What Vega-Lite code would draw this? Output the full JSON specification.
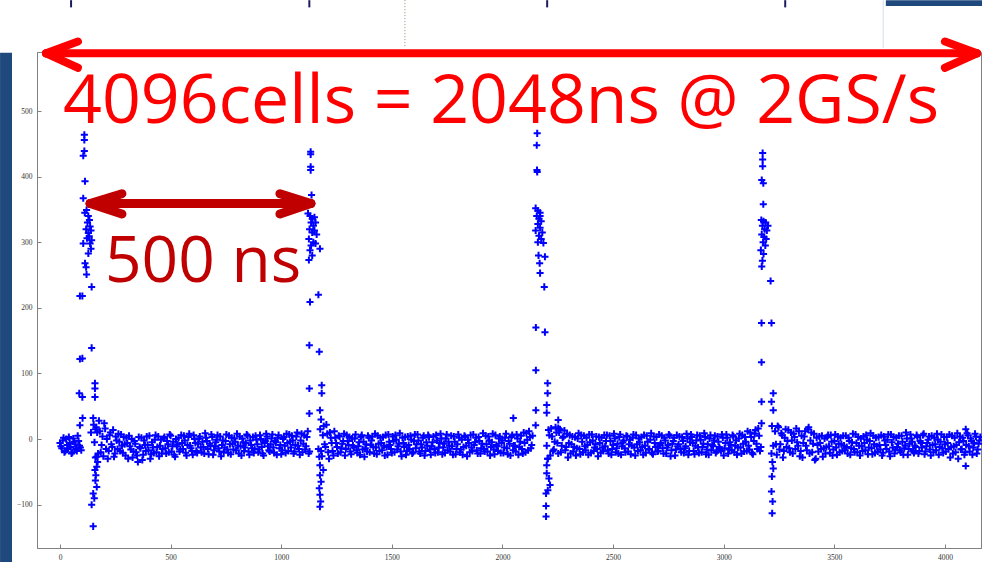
{
  "$schema": "https://vega.github.io/schema/vega-lite/v6.json",
  "width": 944,
  "height": 496,
  "autosize": {"type": "none"},
  "padding": {"left": 37, "top": 52, "right": 1, "bottom": 14},
  "background": "white",
  "config": {
    "view": {"stroke": "#808080", "strokeWidth": 1},
    "axis": {"grid": false, "title": null, "labelFont": "Liberation Serif", "labelFontSize": 7.5, "labelColor": "#333333", "domainColor": "#808080", "tickColor": "#808080", "tickSize": -4, "labelPadding": 9, "domainWidth": 1, "format": "d"}
  },
  "encoding": {
    "x": {"field": "c", "type": "quantitative", "scale": {"domain": [-104, 4163], "nice": false, "zero": false}, "axis": {"values": [0, 500, 1000, 1500, 2000, 2500, 3000, 3500, 4000]}},
    "y": {"field": "v", "type": "quantitative", "scale": {"domain": [-166, 590], "nice": false, "zero": false}, "axis": {"values": [-100, 0, 100, 200, 300, 400, 500]}}
  },
  "layer": [
    {
      "data": {"values": [{"c": -271, "c2": -217, "v": 589, "v2": -188}, {"c": 3733, "c2": 4170, "v": 669, "v2": 660}]},
      "mark": {"type": "rect", "color": "#1f497d", "opacity": 1},
      "encoding": {"x2": {"field": "c2"}, "y2": {"field": "v2"}}
    },
    {
      "data": {"values": [{"c": 50, "v": 669, "v2": 658}, {"c": 1127, "v": 669, "v2": 658}, {"c": 2202, "v": 669, "v2": 658}, {"c": 3278, "v": 669, "v2": 658}]},
      "mark": {"type": "rule", "color": "#1c1c5c", "strokeWidth": 2},
      "encoding": {"y2": {"field": "v2"}}
    },
    {
      "data": {"values": [{"c": 1559, "v": 669, "v2": 596}]},
      "mark": {"type": "rule", "color": "#8a8a70", "strokeWidth": 1, "strokeDash": [1, 2]},
      "encoding": {"y2": {"field": "v2"}}
    },
    {
      "data": {"values": [{"c": 3721, "v": 669, "v2": 596}]},
      "mark": {"type": "rule", "color": "#cfe0f0", "strokeWidth": 1},
      "encoding": {"y2": {"field": "v2"}}
    },
    {
      "data": {"values": [
{"c":0,"v":-6},{"c":8,"v":-14},{"c":16,"v":2},{"c":24,"v":-18},{"c":32,"v":-9},{"c":40,"v":3},{"c":48,"v":-12},{"c":56,"v":-20},{"c":64,"v":-4},{"c":72,"v":-15},{"c":80,"v":5},{"c":88,"v":-10},{"c":96,"v":-17},
{"c":4,"v":-11},{"c":12,"v":-2},{"c":20,"v":-20},{"c":28,"v":0},{"c":36,"v":-15},{"c":44,"v":-6},{"c":52,"v":-22},{"c":60,"v":1},{"c":68,"v":-8},{"c":76,"v":-18},{"c":84,"v":-3},{"c":92,"v":-13},
{"c":110,"v":464},{"c":110,"v":456},{"c":110,"v":439},{"c":105,"v":432},{"c":113,"v":393},{"c":105,"v":367},{"c":120,"v":349},{"c":112,"v":345},{"c":128,"v":340},{"c":133,"v":334},{"c":124,"v":330},{"c":136,"v":324},{"c":118,"v":320},{"c":140,"v":318},{"c":128,"v":314},{"c":132,"v":309},{"c":105,"v":298},{"c":143,"v":303},{"c":136,"v":298},{"c":122,"v":306},{"c":128,"v":283},{"c":140,"v":290},{"c":113,"v":268},{"c":120,"v":251},{"c":118,"v":262},{"c":143,"v":232},{"c":90,"v":218},{"c":101,"v":218},{"c":143,"v":139},{"c":90,"v":122},{"c":101,"v":123},{"c":87,"v":70},{"c":101,"v":64},{"c":158,"v":85},{"c":158,"v":77},{"c":158,"v":64},{"c":102,"v":32},{"c":90,"v":21},{"c":150,"v":32},{"c":160,"v":15},{"c":140,"v":10},{"c":166,"v":-27},{"c":166,"v":-42},{"c":158,"v":-47},{"c":162,"v":-55},{"c":160,"v":-63},{"c":166,"v":-73},{"c":150,"v":-83},{"c":155,"v":-90},{"c":143,"v":-100},{"c":150,"v":-133},{"c":170,"v":-35},
{"c":152,"v":22},{"c":160,"v":-28},{"c":168,"v":10},{"c":176,"v":28},{"c":184,"v":-20},{"c":192,"v":4},{"c":200,"v":24},{"c":208,"v":-15},{"c":216,"v":-30},{"c":224,"v":6},
{"c":232,"v":-8},{"c":240,"v":14},{"c":248,"v":-22},{"c":256,"v":-2},{"c":264,"v":8},{"c":272,"v":-18},{"c":280,"v":-10},{"c":288,"v":3},{"c":296,"v":-25},{"c":304,"v":-6},
{"c":312,"v":5},{"c":320,"v":-16},{"c":328,"v":-28},{"c":336,"v":-3},{"c":344,"v":-20},{"c":352,"v":-35},{"c":360,"v":-12},{"c":368,"v":2},{"c":376,"v":-24},{"c":384,"v":-9},
{"c":392,"v":4},{"c":400,"v":-17},{"c":408,"v":-30},{"c":416,"v":-5},{"c":424,"v":-21},{"c":432,"v":6},{"c":440,"v":-12},{"c":448,"v":-26},{"c":456,"v":-1},{"c":464,"v":-15},
{"c":472,"v":3},{"c":480,"v":-22},{"c":488,"v":-8},{"c":496,"v":7},{"c":504,"v":-19},{"c":512,"v":-4},{"c":520,"v":-27},{"c":528,"v":-11},{"c":536,"v":2},{"c":544,"v":-16},
{"c":552,"v":-6},{"c":560,"v":5},{"c":568,"v":-21},{"c":576,"v":-9},{"c":584,"v":8},{"c":592,"v":-14},{"c":600,"v":-24},{"c":608,"v":0},{"c":616,"v":-18},{"c":624,"v":-7},
{"c":632,"v":4},{"c":640,"v":-20},{"c":648,"v":-12},{"c":656,"v":9},{"c":664,"v":-3},{"c":672,"v":-23},{"c":680,"v":-10},{"c":688,"v":3},{"c":696,"v":-17},{"c":704,"v":-5},
{"c":712,"v":6},{"c":720,"v":-19},{"c":728,"v":-26},{"c":736,"v":-2},{"c":744,"v":-13},{"c":752,"v":7},{"c":760,"v":-21},{"c":768,"v":-8},{"c":776,"v":2},{"c":784,"v":-16},
{"c":792,"v":-4},{"c":800,"v":8},{"c":808,"v":-22},{"c":816,"v":-11},{"c":824,"v":1},{"c":832,"v":-18},{"c":840,"v":-6},{"c":848,"v":5},{"c":856,"v":-24},{"c":864,"v":-9},
{"c":872,"v":3},{"c":880,"v":-15},{"c":888,"v":-1},{"c":896,"v":-20},{"c":904,"v":6},{"c":912,"v":-12},{"c":920,"v":-25},{"c":928,"v":-3},{"c":936,"v":4},{"c":944,"v":-17},
{"c":952,"v":-8},{"c":960,"v":7},{"c":968,"v":-21},{"c":976,"v":-5},{"c":984,"v":2},{"c":992,"v":-14},{"c":1000,"v":-23},{"c":1008,"v":0},{"c":1016,"v":-10},{"c":1024,"v":8},
{"c":1032,"v":-18},{"c":1040,"v":-4},{"c":1048,"v":5},{"c":1056,"v":-22},{"c":1064,"v":-9},{"c":1072,"v":10},{"c":1080,"v":-15},{"c":1088,"v":-2},{"c":1096,"v":-20},{"c":1104,"v":6},
{"c":1112,"v":-11},{"c":1120,"v":12},{"c":1128,"v":-19},
{"c":156,"v":-5},{"c":164,"v":18},{"c":172,"v":-22},{"c":180,"v":12},{"c":188,"v":-9},{"c":196,"v":-26},{"c":204,"v":16},{"c":212,"v":0},{"c":220,"v":-18},{"c":228,"v":10},
{"c":236,"v":-12},{"c":244,"v":-27},{"c":252,"v":4},{"c":260,"v":-15},{"c":268,"v":-4},{"c":276,"v":7},{"c":284,"v":-21},{"c":292,"v":-8},{"c":300,"v":2},{"c":308,"v":-30},
{"c":316,"v":-11},{"c":324,"v":0},{"c":332,"v":-19},{"c":340,"v":-7},{"c":348,"v":-25},{"c":356,"v":3},{"c":364,"v":-14},{"c":372,"v":-32},{"c":380,"v":-2},{"c":388,"v":-18},
{"c":396,"v":-9},{"c":404,"v":5},{"c":412,"v":-23},{"c":420,"v":-13},{"c":428,"v":-1},{"c":436,"v":-20},{"c":444,"v":4},{"c":452,"v":-10},{"c":460,"v":-22},{"c":468,"v":1},
{"c":476,"v":-14},{"c":484,"v":-3},{"c":492,"v":-20},{"c":500,"v":5},{"c":508,"v":-11},{"c":516,"v":-24},{"c":524,"v":0},{"c":532,"v":-8},{"c":540,"v":-19},{"c":548,"v":6},
{"c":556,"v":-15},{"c":564,"v":-2},{"c":572,"v":-25},{"c":580,"v":3},{"c":588,"v":-10},{"c":596,"v":-18},{"c":604,"v":6},{"c":612,"v":-6},{"c":620,"v":-21},{"c":628,"v":1},
{"c":636,"v":-13},{"c":644,"v":-4},{"c":652,"v":-22},{"c":660,"v":2},{"c":668,"v":-15},{"c":676,"v":-7},{"c":684,"v":7},{"c":692,"v":-24},{"c":700,"v":-11},{"c":708,"v":-1},
{"c":716,"v":-14},{"c":724,"v":4},{"c":732,"v":-9},{"c":740,"v":-20},{"c":748,"v":-3},{"c":756,"v":-16},{"c":764,"v":5},{"c":772,"v":-23},{"c":780,"v":-7},{"c":788,"v":1},
{"c":796,"v":-17},{"c":804,"v":-10},{"c":812,"v":4},{"c":820,"v":-25},{"c":828,"v":-5},{"c":836,"v":-13},{"c":844,"v":7},{"c":852,"v":-19},{"c":860,"v":-2},{"c":868,"v":-14},
{"c":876,"v":-21},{"c":884,"v":5},{"c":892,"v":-8},{"c":900,"v":-16},{"c":908,"v":0},{"c":916,"v":-22},{"c":924,"v":-6},{"c":932,"v":8},{"c":940,"v":-11},{"c":948,"v":-19},
{"c":956,"v":1},{"c":964,"v":-13},{"c":972,"v":-3},{"c":980,"v":-24},{"c":988,"v":6},{"c":996,"v":-9},{"c":1004,"v":-17},{"c":1012,"v":3},{"c":1020,"v":-21},{"c":1028,"v":-6},
{"c":1036,"v":7},{"c":1044,"v":-13},{"c":1052,"v":-2},{"c":1060,"v":-19},{"c":1068,"v":4},{"c":1076,"v":-10},{"c":1084,"v":-24},{"c":1092,"v":8},{"c":1100,"v":-7},{"c":1108,"v":-16},
{"c":1116,"v":3},{"c":1124,"v":-22},
{"c":1133,"v":438},{"c":1133,"v":434},{"c":1133,"v":415},{"c":1133,"v":410},{"c":1137,"v":372},{"c":1121,"v":344},{"c":1130,"v":340},{"c":1140,"v":336},{"c":1150,"v":338},{"c":1135,"v":330},{"c":1145,"v":325},{"c":1155,"v":330},{"c":1128,"v":320},{"c":1140,"v":315},{"c":1150,"v":318},{"c":1160,"v":312},{"c":1125,"v":305},{"c":1145,"v":300},{"c":1135,"v":295},{"c":1155,"v":298},{"c":1130,"v":288},{"c":1175,"v":290},{"c":1140,"v":280},{"c":1125,"v":273},{"c":1130,"v":209},{"c":1168,"v":220},{"c":1127,"v":143},{"c":1172,"v":133},{"c":1127,"v":77},{"c":1183,"v":82},{"c":1183,"v":70},{"c":1127,"v":39},{"c":1175,"v":44},{"c":1180,"v":30},{"c":1172,"v":-27},{"c":1175,"v":-40},{"c":1190,"v":-47},{"c":1175,"v":-55},{"c":1180,"v":-65},{"c":1172,"v":-75},{"c":1175,"v":-85},{"c":1178,"v":-95},{"c":1175,"v":-103},{"c":1168,"v":-15},
{"c":1176,"v":15},{"c":1184,"v":-26},{"c":1192,"v":20},{"c":1200,"v":-12},{"c":1208,"v":8},{"c":1216,"v":-30},{"c":1224,"v":2},{"c":1232,"v":-18},{"c":1240,"v":12},{"c":1248,"v":-6},
{"c":1256,"v":-22},{"c":1264,"v":4},{"c":1272,"v":-14},{"c":1280,"v":-3},{"c":1288,"v":-25},{"c":1296,"v":6},{"c":1304,"v":-9},{"c":1312,"v":-19},{"c":1320,"v":1},{"c":1328,"v":-13},
{"c":1336,"v":7},{"c":1344,"v":-21},{"c":1352,"v":-5},{"c":1360,"v":3},{"c":1368,"v":-16},{"c":1376,"v":-27},{"c":1384,"v":-8},{"c":1392,"v":5},{"c":1400,"v":-20},{"c":1408,"v":-2},
{"c":1416,"v":-12},{"c":1424,"v":8},{"c":1432,"v":-23},{"c":1440,"v":-7},{"c":1448,"v":2},{"c":1456,"v":-17},{"c":1464,"v":-10},{"c":1472,"v":6},{"c":1480,"v":-24},{"c":1488,"v":-4},
{"c":1496,"v":-15},{"c":1504,"v":4},{"c":1512,"v":-20},{"c":1520,"v":-1},{"c":1528,"v":-11},{"c":1536,"v":9},{"c":1544,"v":-26},{"c":1552,"v":-6},{"c":1560,"v":3},{"c":1568,"v":-18},
{"c":1576,"v":-9},{"c":1584,"v":5},{"c":1592,"v":-22},{"c":1600,"v":-3},{"c":1608,"v":-14},{"c":1616,"v":7},{"c":1624,"v":-19},{"c":1632,"v":-8},{"c":1640,"v":2},{"c":1648,"v":-25},
{"c":1656,"v":-5},{"c":1664,"v":6},{"c":1672,"v":-16},{"c":1680,"v":-11},{"c":1688,"v":4},{"c":1696,"v":-21},{"c":1704,"v":-2},{"c":1712,"v":-13},{"c":1720,"v":8},{"c":1728,"v":-23},
{"c":1736,"v":-7},{"c":1744,"v":1},{"c":1752,"v":-17},{"c":1760,"v":-10},{"c":1768,"v":5},{"c":1776,"v":-24},{"c":1784,"v":-4},{"c":1792,"v":-15},{"c":1800,"v":7},{"c":1808,"v":-20},
{"c":1816,"v":-1},{"c":1824,"v":-12},{"c":1832,"v":3},{"c":1840,"v":-26},{"c":1848,"v":-6},{"c":1856,"v":6},{"c":1864,"v":-18},{"c":1872,"v":-9},{"c":1880,"v":2},{"c":1888,"v":-22},
{"c":1896,"v":-3},{"c":1904,"v":-14},{"c":1912,"v":9},{"c":1920,"v":-19},{"c":1928,"v":-8},{"c":1936,"v":4},{"c":1944,"v":-25},{"c":1952,"v":-5},{"c":1960,"v":-16},{"c":1968,"v":6},
{"c":1976,"v":-11},{"c":1984,"v":1},{"c":1992,"v":-21},{"c":2000,"v":-2},{"c":2008,"v":-13},{"c":2016,"v":8},{"c":2024,"v":-23},{"c":2032,"v":-7},{"c":2040,"v":3},{"c":2048,"v":-17},
{"c":2056,"v":-10},{"c":2064,"v":7},{"c":2072,"v":-24},{"c":2080,"v":-4},{"c":2088,"v":-15},{"c":2096,"v":10},{"c":2104,"v":-20},{"c":2112,"v":-1},{"c":2120,"v":12},{"c":2128,"v":-14},
{"c":2136,"v":5},
{"c":1180,"v":-18},{"c":1188,"v":6},{"c":1196,"v":-8},{"c":1204,"v":22},{"c":1212,"v":-20},{"c":1220,"v":10},{"c":1228,"v":-6},{"c":1236,"v":-25},{"c":1244,"v":2},{"c":1252,"v":-12},
{"c":1260,"v":5},{"c":1268,"v":-20},{"c":1276,"v":-7},{"c":1284,"v":8},{"c":1292,"v":-15},{"c":1300,"v":-3},{"c":1308,"v":3},{"c":1316,"v":-23},{"c":1324,"v":-10},{"c":1332,"v":1},
{"c":1340,"v":-17},{"c":1348,"v":-11},{"c":1356,"v":-24},{"c":1364,"v":6},{"c":1372,"v":-4},{"c":1380,"v":-14},{"c":1388,"v":-19},{"c":1396,"v":2},{"c":1404,"v":-9},{"c":1412,"v":4},
{"c":1420,"v":-22},{"c":1428,"v":-13},{"c":1436,"v":5},{"c":1444,"v":-18},{"c":1452,"v":-6},{"c":1460,"v":3},{"c":1468,"v":-25},{"c":1476,"v":-12},{"c":1484,"v":7},{"c":1492,"v":-9},
{"c":1500,"v":-21},{"c":1508,"v":-3},{"c":1516,"v":6},{"c":1524,"v":-16},{"c":1532,"v":-7},{"c":1540,"v":-19},{"c":1548,"v":2},{"c":1556,"v":-12},{"c":1564,"v":-24},{"c":1572,"v":4},
{"c":1580,"v":-15},{"c":1588,"v":-1},{"c":1596,"v":-20},{"c":1604,"v":7},{"c":1612,"v":-8},{"c":1620,"v":-2},{"c":1628,"v":-22},{"c":1636,"v":-13},{"c":1644,"v":5},{"c":1652,"v":-18},
{"c":1660,"v":-10},{"c":1668,"v":3},{"c":1676,"v":-24},{"c":1684,"v":-5},{"c":1692,"v":-15},{"c":1700,"v":6},{"c":1708,"v":-20},{"c":1716,"v":-6},{"c":1724,"v":1},{"c":1732,"v":-13},
{"c":1740,"v":-21},{"c":1748,"v":7},{"c":1756,"v":-4},{"c":1764,"v":-19},{"c":1772,"v":-11},{"c":1780,"v":4},{"c":1788,"v":-23},{"c":1796,"v":-8},{"c":1804,"v":2},{"c":1812,"v":-16},
{"c":1820,"v":-24},{"c":1828,"v":5},{"c":1836,"v":-10},{"c":1844,"v":-1},{"c":1852,"v":-20},{"c":1860,"v":-13},{"c":1868,"v":7},{"c":1876,"v":-5},{"c":1884,"v":-17},{"c":1892,"v":3},
{"c":1900,"v":-22},{"c":1908,"v":-7},{"c":1916,"v":-15},{"c":1924,"v":5},{"c":1932,"v":-19},{"c":1940,"v":-2},{"c":1948,"v":-12},{"c":1956,"v":8},{"c":1964,"v":-23},{"c":1972,"v":-9},
{"c":1980,"v":-18},{"c":1988,"v":4},{"c":1996,"v":-6},{"c":2004,"v":-21},{"c":2012,"v":2},{"c":2020,"v":-14},{"c":2028,"v":-3},{"c":2036,"v":-25},{"c":2044,"v":6},{"c":2052,"v":-10},
{"c":2060,"v":-19},{"c":2068,"v":1},{"c":2076,"v":-12},{"c":2084,"v":5},{"c":2092,"v":-22},{"c":2100,"v":-6},{"c":2108,"v":9},{"c":2116,"v":-17},{"c":2124,"v":3},{"c":2132,"v":-9},
{"c":2157,"v":466},{"c":2155,"v":448},{"c":2156,"v":410},{"c":2157,"v":407},{"c":2150,"v":352},{"c":2160,"v":348},{"c":2170,"v":345},{"c":2155,"v":340},{"c":2165,"v":336},{"c":2175,"v":332},{"c":2160,"v":328},{"c":2170,"v":322},{"c":2150,"v":318},{"c":2180,"v":315},{"c":2165,"v":310},{"c":2175,"v":305},{"c":2160,"v":300},{"c":2185,"v":299},{"c":2170,"v":340},{"c":2163,"v":280},{"c":2168,"v":268},{"c":2170,"v":253},{"c":2192,"v":278},{"c":2189,"v":232},{"c":2151,"v":170},{"c":2192,"v":163},{"c":2151,"v":105},{"c":2204,"v":85},{"c":2204,"v":70},{"c":2151,"v":44},{"c":2200,"v":52},{"c":2200,"v":40},{"c":2150,"v":21},{"c":2252,"v":29},{"c":2252,"v":17},{"c":2049,"v":32},{"c":2200,"v":-52},{"c":2210,"v":-60},{"c":2215,"v":-70},{"c":2205,"v":-78},{"c":2197,"v":-83},{"c":2197,"v":-102},{"c":2197,"v":-118},{"c":2205,"v":-30},{"c":2200,"v":-40},
{"c":2200,"v":-10},{"c":2208,"v":14},{"c":2216,"v":-25},{"c":2224,"v":4},{"c":2232,"v":-16},{"c":2240,"v":18},{"c":2248,"v":-6},{"c":2256,"v":10},{"c":2264,"v":-20},{"c":2272,"v":2},
{"c":2280,"v":13},{"c":2288,"v":-12},{"c":2296,"v":-28},{"c":2304,"v":6},{"c":2312,"v":-8},{"c":2320,"v":-19},{"c":2328,"v":3},{"c":2336,"v":-14},{"c":2344,"v":9},{"c":2352,"v":-23},
{"c":2360,"v":-4},{"c":2368,"v":5},{"c":2376,"v":-17},{"c":2384,"v":-9},{"c":2392,"v":7},{"c":2400,"v":-21},{"c":2408,"v":-2},{"c":2416,"v":-13},{"c":2424,"v":4},{"c":2432,"v":-26},
{"c":2440,"v":-6},{"c":2448,"v":2},{"c":2456,"v":-18},{"c":2464,"v":-11},{"c":2472,"v":6},{"c":2480,"v":-22},{"c":2488,"v":-3},{"c":2496,"v":-15},{"c":2504,"v":8},{"c":2512,"v":-20},
{"c":2520,"v":-7},{"c":2528,"v":3},{"c":2536,"v":-24},{"c":2544,"v":-5},{"c":2552,"v":-14},{"c":2560,"v":5},{"c":2568,"v":-19},{"c":2576,"v":-1},{"c":2584,"v":-10},{"c":2592,"v":7},
{"c":2600,"v":-25},{"c":2608,"v":-8},{"c":2616,"v":1},{"c":2624,"v":-17},{"c":2632,"v":-12},{"c":2640,"v":6},{"c":2648,"v":-21},{"c":2656,"v":-4},{"c":2664,"v":-15},{"c":2672,"v":9},
{"c":2680,"v":-23},{"c":2688,"v":-6},{"c":2696,"v":3},{"c":2704,"v":-18},{"c":2712,"v":-9},{"c":2720,"v":5},{"c":2728,"v":-22},{"c":2736,"v":-2},{"c":2744,"v":-13},{"c":2752,"v":7},
{"c":2760,"v":-26},{"c":2768,"v":-7},{"c":2776,"v":2},{"c":2784,"v":-16},{"c":2792,"v":-11},{"c":2800,"v":4},{"c":2808,"v":-20},{"c":2816,"v":-3},{"c":2824,"v":-14},{"c":2832,"v":8},
{"c":2840,"v":-24},{"c":2848,"v":-5},{"c":2856,"v":3},{"c":2864,"v":-18},{"c":2872,"v":-10},{"c":2880,"v":6},{"c":2888,"v":-21},{"c":2896,"v":-1},{"c":2904,"v":-12},{"c":2912,"v":9},
{"c":2920,"v":-23},{"c":2928,"v":-8},{"c":2936,"v":1},{"c":2944,"v":-17},{"c":2952,"v":-11},{"c":2960,"v":5},{"c":2968,"v":-19},{"c":2976,"v":-4},{"c":2984,"v":-15},{"c":2992,"v":7},
{"c":3000,"v":-25},{"c":3008,"v":-6},{"c":3016,"v":2},{"c":3024,"v":-16},{"c":3032,"v":-9},{"c":3040,"v":6},{"c":3048,"v":-20},{"c":3056,"v":-2},{"c":3064,"v":-13},{"c":3072,"v":8},
{"c":3080,"v":-22},{"c":3088,"v":-7},{"c":3096,"v":3},{"c":3104,"v":-18},{"c":3112,"v":-10},{"c":3120,"v":10},{"c":3128,"v":-21},{"c":3136,"v":-3},{"c":3144,"v":14},{"c":3152,"v":-15},
{"c":3160,"v":5},{"c":3168,"v":-12},
{"c":2204,"v":-30},{"c":2212,"v":6},{"c":2220,"v":16},{"c":2228,"v":-18},{"c":2236,"v":-4},{"c":2244,"v":10},{"c":2252,"v":-22},{"c":2260,"v":15},{"c":2268,"v":-10},{"c":2276,"v":4},
{"c":2284,"v":-17},{"c":2292,"v":8},{"c":2300,"v":-6},{"c":2308,"v":-22},{"c":2316,"v":4},{"c":2324,"v":-12},{"c":2332,"v":-25},{"c":2340,"v":1},{"c":2348,"v":-15},{"c":2356,"v":6},
{"c":2364,"v":-20},{"c":2372,"v":-11},{"c":2380,"v":2},{"c":2388,"v":-24},{"c":2396,"v":-5},{"c":2404,"v":7},{"c":2412,"v":-18},{"c":2420,"v":-8},{"c":2428,"v":-15},{"c":2436,"v":3},
{"c":2444,"v":-21},{"c":2452,"v":-13},{"c":2460,"v":6},{"c":2468,"v":-3},{"c":2476,"v":-17},{"c":2484,"v":5},{"c":2492,"v":-24},{"c":2500,"v":-9},{"c":2508,"v":1},{"c":2516,"v":-14},
{"c":2524,"v":-22},{"c":2532,"v":7},{"c":2540,"v":-11},{"c":2548,"v":-2},{"c":2556,"v":-20},{"c":2564,"v":4},{"c":2572,"v":-8},{"c":2580,"v":-23},{"c":2588,"v":2},{"c":2596,"v":-13},
{"c":2604,"v":6},{"c":2612,"v":-18},{"c":2620,"v":-5},{"c":2628,"v":3},{"c":2636,"v":-24},{"c":2644,"v":-10},{"c":2652,"v":5},{"c":2660,"v":-16},{"c":2668,"v":-1},{"c":2676,"v":-21},
{"c":2684,"v":4},{"c":2692,"v":-12},{"c":2700,"v":-19},{"c":2708,"v":7},{"c":2716,"v":-6},{"c":2724,"v":-14},{"c":2732,"v":2},{"c":2740,"v":-22},{"c":2748,"v":-9},{"c":2756,"v":5},
{"c":2764,"v":-17},{"c":2772,"v":-3},{"c":2780,"v":-25},{"c":2788,"v":6},{"c":2796,"v":-8},{"c":2804,"v":-15},{"c":2812,"v":3},{"c":2820,"v":-21},{"c":2828,"v":-11},{"c":2836,"v":1},
{"c":2844,"v":-18},{"c":2852,"v":7},{"c":2860,"v":-6},{"c":2868,"v":-23},{"c":2876,"v":-2},{"c":2884,"v":-13},{"c":2892,"v":5},{"c":2900,"v":-20},{"c":2908,"v":-7},{"c":2916,"v":3},
{"c":2924,"v":-16},{"c":2932,"v":-24},{"c":2940,"v":6},{"c":2948,"v":-9},{"c":2956,"v":-2},{"c":2964,"v":-21},{"c":2972,"v":4},{"c":2980,"v":-12},{"c":2988,"v":-18},{"c":2996,"v":2},
{"c":3004,"v":-14},{"c":3012,"v":7},{"c":3020,"v":-22},{"c":3028,"v":-5},{"c":3036,"v":-17},{"c":3044,"v":4},{"c":3052,"v":-10},{"c":3060,"v":-24},{"c":3068,"v":1},{"c":3076,"v":-13},
{"c":3084,"v":6},{"c":3092,"v":-19},{"c":3100,"v":-4},{"c":3108,"v":12},{"c":3116,"v":-16},{"c":3124,"v":3},{"c":3132,"v":-23},{"c":3140,"v":8},{"c":3148,"v":-7},{"c":3156,"v":16},
{"c":3164,"v":-18},
{"c":3176,"v":436},{"c":3176,"v":426},{"c":3176,"v":416},{"c":3172,"v":395},{"c":3179,"v":390},{"c":3179,"v":358},{"c":3170,"v":334},{"c":3180,"v":332},{"c":3190,"v":330},{"c":3175,"v":325},{"c":3185,"v":320},{"c":3195,"v":318},{"c":3172,"v":312},{"c":3182,"v":308},{"c":3192,"v":305},{"c":3178,"v":300},{"c":3188,"v":295},{"c":3168,"v":288},{"c":3180,"v":282},{"c":3175,"v":272},{"c":3172,"v":263},{"c":3200,"v":325},{"c":3212,"v":241},{"c":3171,"v":177},{"c":3216,"v":177},{"c":3171,"v":117},{"c":3171,"v":57},{"c":3216,"v":57},{"c":3224,"v":70},{"c":3224,"v":44},{"c":3171,"v":24},{"c":3218,"v":20},{"c":3216,"v":-22},{"c":3220,"v":-35},{"c":3224,"v":-45},{"c":3218,"v":-57},{"c":3216,"v":-80},{"c":3221,"v":-95},{"c":3219,"v":-113},{"c":3224,"v":-10},
{"c":3232,"v":12},{"c":3240,"v":-24},{"c":3248,"v":18},{"c":3256,"v":-8},{"c":3264,"v":6},{"c":3272,"v":-18},{"c":3280,"v":15},{"c":3288,"v":-3},{"c":3296,"v":-14},{"c":3304,"v":10},
{"c":3312,"v":-22},{"c":3320,"v":3},{"c":3328,"v":16},{"c":3336,"v":-10},{"c":3344,"v":-26},{"c":3352,"v":5},{"c":3360,"v":-6},{"c":3368,"v":12},{"c":3376,"v":-17},{"c":3384,"v":18},
{"c":3392,"v":-2},{"c":3400,"v":-20},{"c":3408,"v":8},{"c":3416,"v":-30},{"c":3424,"v":-9},{"c":3432,"v":4},{"c":3440,"v":-15},{"c":3448,"v":-27},{"c":3456,"v":1},{"c":3464,"v":-12},
{"c":3472,"v":6},{"c":3480,"v":-21},{"c":3488,"v":-4},{"c":3496,"v":-16},{"c":3504,"v":7},{"c":3512,"v":-24},{"c":3520,"v":-7},{"c":3528,"v":2},{"c":3536,"v":-18},{"c":3544,"v":-10},
{"c":3552,"v":5},{"c":3560,"v":-22},{"c":3568,"v":-3},{"c":3576,"v":-14},{"c":3584,"v":8},{"c":3592,"v":-20},{"c":3600,"v":-6},{"c":3608,"v":3},{"c":3616,"v":-25},{"c":3624,"v":-11},
{"c":3632,"v":4},{"c":3640,"v":-17},{"c":3648,"v":-1},{"c":3656,"v":-13},{"c":3664,"v":9},{"c":3672,"v":-23},{"c":3680,"v":-8},{"c":3688,"v":2},{"c":3696,"v":-19},{"c":3704,"v":-9},
{"c":3712,"v":6},{"c":3720,"v":-21},{"c":3728,"v":-2},{"c":3736,"v":-15},{"c":3744,"v":7},{"c":3752,"v":-26},{"c":3760,"v":-5},{"c":3768,"v":3},{"c":3776,"v":-16},{"c":3784,"v":-12},
{"c":3792,"v":5},{"c":3800,"v":-20},{"c":3808,"v":-4},{"c":3816,"v":-14},{"c":3824,"v":10},{"c":3832,"v":-24},{"c":3840,"v":-7},{"c":3848,"v":1},{"c":3856,"v":-18},{"c":3864,"v":-10},
{"c":3872,"v":6},{"c":3880,"v":-22},{"c":3888,"v":-3},{"c":3896,"v":-13},{"c":3904,"v":8},{"c":3912,"v":-19},{"c":3920,"v":-6},{"c":3928,"v":4},{"c":3936,"v":-25},{"c":3944,"v":-9},
{"c":3952,"v":2},{"c":3960,"v":-17},{"c":3968,"v":-1},{"c":3976,"v":-12},{"c":3984,"v":7},{"c":3992,"v":-21},{"c":4000,"v":-8},{"c":4008,"v":3},{"c":4016,"v":-15},{"c":4024,"v":-28},
{"c":4032,"v":5},{"c":4040,"v":-11},{"c":4048,"v":-20},{"c":4056,"v":9},{"c":4064,"v":-5},{"c":4072,"v":-16},{"c":4080,"v":2},{"c":4088,"v":-24},{"c":4096,"v":-9},{"c":4104,"v":6},
{"c":4112,"v":-19},{"c":4120,"v":-3},{"c":4128,"v":-13},{"c":4136,"v":8},{"c":4144,"v":-22},{"c":4152,"v":-7},{"c":4160,"v":3},
{"c":3236,"v":-8},{"c":3244,"v":20},{"c":3252,"v":-16},{"c":3260,"v":9},{"c":3268,"v":-28},{"c":3276,"v":2},{"c":3284,"v":-12},{"c":3292,"v":14},{"c":3300,"v":-20},{"c":3308,"v":-2},
{"c":3316,"v":8},{"c":3324,"v":-15},{"c":3332,"v":-5},{"c":3340,"v":12},{"c":3348,"v":-18},{"c":3356,"v":-28},{"c":3364,"v":4},{"c":3372,"v":-10},{"c":3380,"v":15},{"c":3388,"v":-22},
{"c":3396,"v":10},{"c":3404,"v":-7},{"c":3412,"v":-32},{"c":3420,"v":2},{"c":3428,"v":-19},{"c":3436,"v":-6},{"c":3444,"v":5},{"c":3452,"v":-14},{"c":3460,"v":-22},{"c":3468,"v":3},
{"c":3476,"v":-11},{"c":3484,"v":6},{"c":3492,"v":-25},{"c":3500,"v":-3},{"c":3508,"v":-13},{"c":3516,"v":4},{"c":3524,"v":-20},{"c":3532,"v":-8},{"c":3540,"v":5},{"c":3548,"v":-17},
{"c":3556,"v":-12},{"c":3564,"v":2},{"c":3572,"v":-24},{"c":3580,"v":-5},{"c":3588,"v":-15},{"c":3596,"v":7},{"c":3604,"v":-20},{"c":3612,"v":-10},{"c":3620,"v":1},{"c":3628,"v":-18},
{"c":3636,"v":-6},{"c":3644,"v":6},{"c":3652,"v":-23},{"c":3660,"v":-3},{"c":3668,"v":-14},{"c":3676,"v":5},{"c":3684,"v":-21},{"c":3692,"v":-11},{"c":3700,"v":3},{"c":3708,"v":-16},
{"c":3716,"v":-25},{"c":3724,"v":4},{"c":3732,"v":-9},{"c":3740,"v":-1},{"c":3748,"v":-19},{"c":3756,"v":7},{"c":3764,"v":-13},{"c":3772,"v":-22},{"c":3780,"v":2},{"c":3788,"v":-7},
{"c":3796,"v":-17},{"c":3804,"v":5},{"c":3812,"v":-24},{"c":3820,"v":-10},{"c":3828,"v":1},{"c":3836,"v":-15},{"c":3844,"v":7},{"c":3852,"v":-4},{"c":3860,"v":-21},{"c":3868,"v":-12},
{"c":3876,"v":3},{"c":3884,"v":-18},{"c":3892,"v":-6},{"c":3900,"v":6},{"c":3908,"v":-23},{"c":3916,"v":-11},{"c":3924,"v":-1},{"c":3932,"v":-16},{"c":3940,"v":5},{"c":3948,"v":-20},
{"c":3956,"v":-8},{"c":3964,"v":8},{"c":3972,"v":-24},{"c":3980,"v":-4},{"c":3988,"v":-14},{"c":3996,"v":3},{"c":4004,"v":-19},{"c":4012,"v":-6},{"c":4020,"v":7},{"c":4028,"v":-12},
{"c":4036,"v":-22},{"c":4044,"v":2},{"c":4052,"v":-9},{"c":4060,"v":-30},{"c":4068,"v":4},{"c":4076,"v":-15},{"c":4084,"v":-3},{"c":4092,"v":-20},{"c":4100,"v":9},{"c":4108,"v":-11},
{"c":4116,"v":1},{"c":4124,"v":-24},{"c":4132,"v":-6},{"c":4140,"v":4},{"c":4148,"v":-16},{"c":4156,"v":-2},
{"c":4094,"v":15},{"c":4094,"v":-41}
      ]},
      "mark": {"type": "point", "shape": "M-1,0H1M0,-1V1", "filled": false, "color": "#0000ff", "strokeWidth": 2, "size": 50, "opacity": 1}
    },
    {
      "data": {"values": [
        {"c": -63, "v": 588, "c2": 4145, "v2": 588},
        {"c": -63, "v": 588, "c2": 81, "v2": 606},
        {"c": -63, "v": 588, "c2": 81, "v2": 566},
        {"c": 4145, "v": 588, "c2": 4000, "v2": 606},
        {"c": 4145, "v": 588, "c2": 4000, "v2": 566}
      ]},
      "mark": {"type": "rule", "color": "#ff0000", "strokeWidth": 8, "strokeCap": "round"},
      "encoding": {"x2": {"field": "c2"}, "y2": {"field": "v2"}}
    },
    {
      "data": {"values": [
        {"c": 136, "v": 359, "c2": 1134, "v2": 359},
        {"c": 136, "v": 359, "c2": 280, "v2": 374},
        {"c": 136, "v": 359, "c2": 280, "v2": 343},
        {"c": 1134, "v": 359, "c2": 994, "v2": 374},
        {"c": 1134, "v": 359, "c2": 994, "v2": 343}
      ]},
      "mark": {"type": "rule", "color": "#c00000", "strokeWidth": 9, "strokeCap": "round"},
      "encoding": {"x2": {"field": "c2"}, "y2": {"field": "v2"}}
    },
    {
      "data": {"values": [{"c": 13.6, "v": 481.7, "t": "4096cells = 2048ns @ 2GS/s"}]},
      "mark": {"type": "text", "font": "Open Sans", "fontSize": 68, "color": "#ff0000", "align": "left", "baseline": "alphabetic"},
      "encoding": {"text": {"field": "t"}}
    },
    {
      "data": {"values": [{"c": 203.4, "v": 239.8, "t": "500 ns"}]},
      "mark": {"type": "text", "font": "Open Sans", "fontSize": 64, "color": "#c00000", "align": "left", "baseline": "alphabetic"},
      "encoding": {"text": {"field": "t"}}
    }
  ]
}
